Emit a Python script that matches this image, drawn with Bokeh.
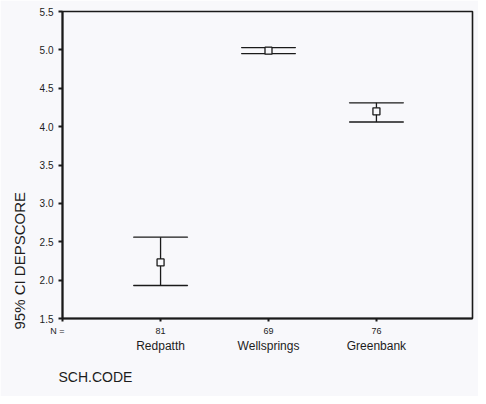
from bokeh.plotting import figure
from bokeh.models import FixedTicker, LinearAxis, Range1d, PrintfTickFormatter, Title
from bokeh.embed import file_html
from bokeh.resources import INLINE

categories = ["Redpatth", "Wellsprings", "Greenbank"]
counts = [81, 69, 76]
means = [2.23, 4.99, 4.20]
lower = [1.93, 4.95, 4.06]
upper = [2.56, 5.03, 4.31]
y_ticks = [1.5, 2.0, 2.5, 3.0, 3.5, 4.0, 4.5, 5.0, 5.5]
y_title = "95% CI DEPSCORE"
x_title = "SCH.CODE"
n_label = "N ="

xpos = [i + 1 for i in range(len(categories))]
BG = "#f8f8fb"
INK = "#1a1a1a"
TXT = "#1c1c1c"
FONT = "Liberation Sans"
W, H = 478, 396
X0, X1 = 0.0915, 3.89

p = figure(width=W, height=H, output_backend="svg", toolbar_location=None,
           x_range=Range1d(X0, X1), y_range=Range1d(1.5, 5.5),
           min_border_left=61, min_border_right=6, min_border_top=11, min_border_bottom=78,
           x_axis_location=None)
p.background_fill_color = BG
p.border_fill_color = BG
p.outline_line_color = INK
p.outline_line_width = 1.6
p.grid.visible = False

ya = p.yaxis[0]
ya.ticker = FixedTicker(ticks=y_ticks)
ya.formatter = PrintfTickFormatter(format="%.1f")
ya.axis_line_color = INK
ya.axis_line_width = 2
ya.major_tick_out = 4
ya.major_tick_in = 0
ya.major_tick_line_color = INK
ya.major_tick_line_width = 2
ya.minor_tick_line_color = None
ya.major_label_standoff = 5
ya.major_label_text_font = FONT
ya.major_label_text_font_size = "10px"
ya.major_label_text_color = TXT

# counts axis; the "N =" label sits on the tick at the frame's left edge
overrides = {x: str(c) for x, c in zip(xpos, counts)}
overrides[X0] = n_label + "\u00a0" * 4
xa1 = LinearAxis(ticker=FixedTicker(ticks=[X0] + xpos), major_label_overrides=overrides)
xa1.axis_line_color = INK
xa1.axis_line_width = 2
xa1.major_tick_out = 3
xa1.major_tick_in = 0
xa1.major_tick_line_color = INK
xa1.major_tick_line_width = 2
xa1.minor_tick_line_color = None
xa1.major_label_standoff = 4
xa1.major_label_text_font = FONT
xa1.major_label_text_font_size = "9px"
xa1.major_label_text_color = TXT
p.add_layout(xa1, "below")

xa2 = LinearAxis(ticker=FixedTicker(ticks=xpos),
                 major_label_overrides={x: c for x, c in zip(xpos, categories)})
xa2.axis_line_color = None
xa2.major_tick_line_color = None
xa2.minor_tick_line_color = None
xa2.major_label_standoff = -6
xa2.major_label_text_font = FONT
xa2.major_label_text_font_size = "12px"
xa2.major_label_text_color = TXT
p.add_layout(xa2, "below")

p.add_layout(Title(text=y_title, align="left", offset=-11, standoff=17,
                   text_font=FONT, text_font_size="15px", text_font_style="normal",
                   text_color=TXT), "left")
p.add_layout(Title(text=x_title, align="left", offset=-4, standoff=23,
                   text_font=FONT, text_font_size="14px", text_font_style="normal",
                   text_color=TXT), "below")

p.segment(x0=xpos, y0=lower, x1=xpos, y1=upper, line_color=INK, line_width=1.3)
p.rect(x=xpos, y=upper, width=0.5, height=0.0001, line_color=INK, line_width=1.3, fill_color=None)
p.rect(x=xpos, y=lower, width=0.5, height=0.0001, line_color=INK, line_width=1.3, fill_color=None)
p.scatter(x=xpos, y=means, marker="square", size=7, fill_color=BG, line_color=INK, line_width=1.3)

open("out.html", "w").write(file_html(p, INLINE))
